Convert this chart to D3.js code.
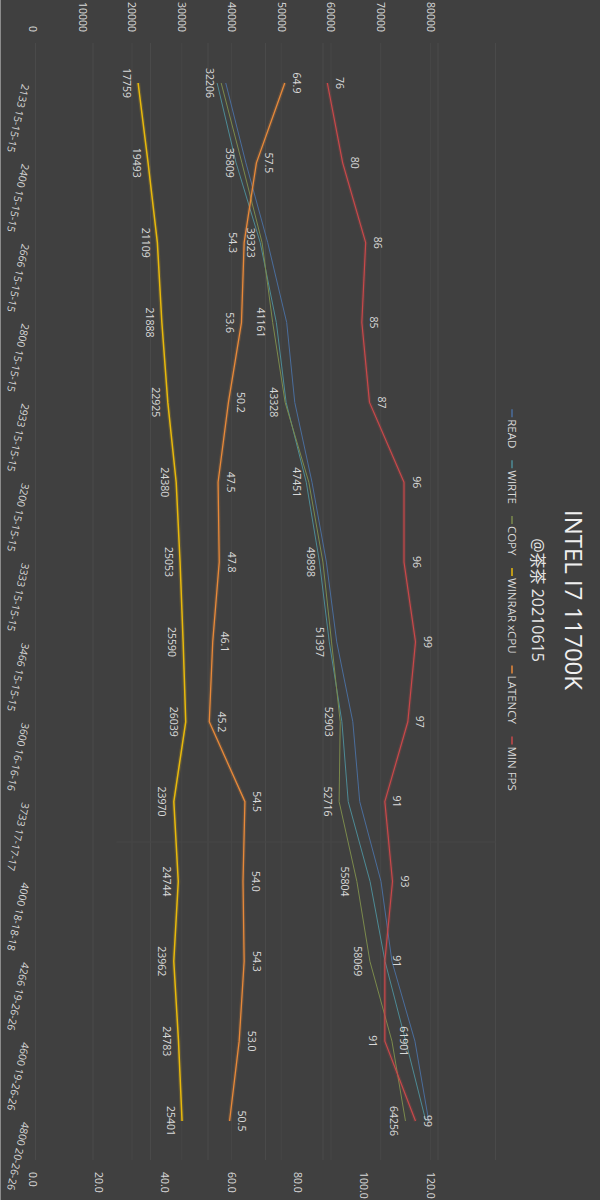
<!DOCTYPE html>
<html>
<head>
<meta charset="utf-8">
<script src="https://cdn.jsdelivr.net/npm/d3@7"></script>
<style>
  html, body { margin: 0; padding: 0; background: #404040; }
  svg { display: block; }
  text { font-family: "Open Sans", "Noto Sans CJK SC", sans-serif; }
</style>
</head>
<body>
<svg id="chart" width="600" height="1200"></svg>
<script>
// ---------- data ----------
const categories = ["2133 15-15-15","2400 15-15-15","2666 15-15-15","2800 15-15-15","2933 15-15-15","3200 15-15-15","3333 15-15-15","3466 15-15-15","3600 16-16-16","3733 17-17-17","4000 18-18-18","4266 19-26-26","4600 19-26-26","4800 20-26-26"];
const readValues   = [33000, 36500, 40300, 43600, 45000, 48000, 50500, 52300, 55100, 56300, 60000, 61900, 65900, 68300];
const writeValues  = [31500, 34800, 39000, 41800, 43500, 47000, 49300, 51000, 53200, 54300, 58100, 60700, 64300, 67800];
const copyValues   = [32206, 35809, 39323, 41161, 43328, 47451, 49898, 51397, 52903, 52716, 55804, 58069, 61901, 64256];
const winrarValues = [17759, 19493, 21109, 21888, 22925, 24380, 25053, 25590, 26039, 23970, 24744, 23962, 24783, 25401];
const latencyValues= [64.9, 57.5, 54.3, 53.6, 50.2, 47.5, 47.8, 46.1, 45.2, 54.5, 54.0, 54.3, 53.0, 50.5];
const minFpsValues = [76, 80, 86, 85, 87, 96, 96, 99, 97, 91, 93, 91, 91, 99];
const leftTicks  = [0, 10000, 20000, 30000, 40000, 50000, 60000, 70000, 80000];
const rightTicks = [0, 20, 40, 60, 80, 100, 120];
const seriesNames = ["READ", "WIRTE", "COPY", "WINRAR xCPU", "LATENCY", "MIN FPS"];
const title = "INTEL I7 11700K";
const subtitle = "@茶茶 20210615";

// ---------- styling ----------
const colors = {"READ":"#4a6d9c","WIRTE":"#4d8b96","COPY":"#7b8a4c","WINRAR xCPU":"#e8b90c","LATENCY":"#e8893a","MIN FPS":"#c9484a"};
const textColor = "#d9d9d9";
const gridColor = "#4a4a4a";

const series = [
  {name:"READ", values: readValues, axis:"L", width:1, glow:false},
  {name:"WIRTE", values: writeValues, axis:"L", width:1, glow:false},
  {name:"COPY", values: copyValues, axis:"L", width:1, glow:false, labels:true, fmt:d3.format("d"),
     above:[false,false,false,false,false,false,false,false,false,false,false,false,true,false]},
  {name:"WINRAR xCPU", values: winrarValues, axis:"L", width:1.5, glow:true, labels:true, fmt:d3.format("d"),
     above:winrarValues.map(()=>false)},
  {name:"LATENCY", values: latencyValues, axis:"R", width:1.3, glow:true, labels:true, fmt:d3.format(".1f"),
     above:[true,true,false,false,true,true,true,true,true,true,true,true,true,true]},
  {name:"MIN FPS", values: minFpsValues, axis:"R", width:1.2, glow:true, labels:true, fmt:d3.format("d"),
     above:[true,true,true,true,true,true,true,true,true,true,true,true,false,true]}
];

// ---------- chart (drawn in a 1200x600 frame, rotated 90deg clockwise) ----------
const svg = d3.select("#chart");
svg.append("rect").attr("width",600).attr("height",1200).attr("fill","#404040");
svg.append("line").attr("x1",0.5).attr("x2",0.5).attr("y1",0).attr("y2",1200)
   .attr("stroke","#8c8c8c").attr("stroke-width",1);

const g = svg.append("g").attr("transform","translate(600,0) rotate(90)");

const x = d3.scalePoint().domain(categories).range([83, 1121]);
const yL = d3.scaleLinear().domain([0, 80000]).range([564, 104]);
const yR = d3.scaleLinear().domain([0, 120]).range([564, 104]);
const yAxisL = d3.scaleLinear().domain([0, 80000]).range([567, 169]);
const yAxisR = d3.scaleLinear().domain([0, 120]).range([567, 169]);

// gridlines
const grid = g.append("g");
grid.selectAll("line.gd").data(leftTicks).join("line")
  .attr("x1",43).attr("x2",1160)
  .attr("y1",d=>yL(d)+0.5).attr("y2",d=>yL(d)+0.5)
  .attr("stroke",gridColor).attr("stroke-width",1);
grid.selectAll("line.ga").data(leftTicks.slice(2)).join("line")
  .attr("x1",43).attr("x2",1160)
  .attr("y1",d=>yAxisL(d)+0.5).attr("y2",d=>yAxisL(d)+0.5)
  .attr("stroke","#464646").attr("stroke-width",1);
grid.append("line").attr("x1",842).attr("x2",842).attr("y1",yL(80000)).attr("y2",yL(14000))
  .attr("stroke","#474747");

// left axis (top of picture)
const axL = g.append("g").attr("transform","translate(32,0)")
  .call(d3.axisLeft(yAxisL).tickValues(leftTicks).tickSize(0).tickPadding(0).tickFormat(d3.format("d")));
axL.select(".domain").remove();
axL.selectAll("text").attr("fill",textColor).attr("font-size","10.5px").attr("dy","0.35em");

// right axis (bottom of picture)
const axR = g.append("g").attr("transform","translate(1172,0)")
  .call(d3.axisRight(yAxisR).tickValues(rightTicks).tickSize(0).tickPadding(0).tickFormat(d3.format(".1f")));
axR.select(".domain").remove();
axR.selectAll("text").attr("fill",textColor).attr("font-size","10.5px").attr("dy","0.35em");

// category axis (left of picture)
const axB = g.append("g").attr("transform","translate(0,578)")
  .call(d3.axisBottom(x).tickSize(0).tickPadding(0));
axB.select(".domain").remove();
axB.selectAll("text").attr("fill",textColor).attr("font-size","10.5px")
  .attr("text-anchor","start").attr("x",0).attr("y",0).attr("dy",0)
  .attr("transform","rotate(12.6)");

// lines
const lineGen = (sc) => d3.line().x((d,i)=>x(categories[i])).y(d=>sc(d));
series.forEach(s => {
  const sc = s.axis === "L" ? yL : yR;
  if (s.glow) {
    g.append("path").datum(s.values).attr("d", lineGen(sc))
      .attr("fill","none").attr("stroke",colors[s.name]).attr("stroke-opacity",0.18)
      .attr("stroke-width",s.width+2.5).attr("stroke-linejoin","round");
  }
  g.append("path").datum(s.values).attr("d", lineGen(sc))
    .attr("fill","none").attr("stroke",colors[s.name])
    .attr("stroke-width",s.width).attr("stroke-linejoin","round");
});

// data labels
series.filter(s=>s.labels).forEach(s => {
  const sc = s.axis === "L" ? yL : yR;
  g.append("g").selectAll("text").data(s.values).join("text")
    .attr("x",(d,i)=>x(categories[i]))
    .attr("y",(d,i)=> s.above[i] ? sc(d) - 8.5 : sc(d) + 15.5)
    .attr("text-anchor","middle").attr("fill",textColor).attr("font-size","10.5px")
    .text(d=>s.fmt(d));
});

// title and subtitle
g.append("text").attr("x",600).attr("y",35).attr("text-anchor","middle")
  .attr("fill","#f0f0f0").attr("font-size","24px").text(title);
g.append("text").attr("x",600).attr("y",68).attr("text-anchor","middle")
  .attr("fill","#e6e6e6").attr("font-size","16px").text(subtitle);

// legend
const legend = g.append("g").attr("transform","translate(0,92)");
const items = legend.selectAll("g").data(seriesNames).join("g");
items.append("line").attr("x1",0).attr("x2",8).attr("y1",-4).attr("y2",-4)
  .attr("stroke",d=>colors[d]).attr("stroke-width",1.5);
items.append("text").attr("x",10).attr("y",0).attr("fill",textColor)
  .attr("font-size","11.5px").text(d=>d);
let widths = [];
items.each(function(){ widths.push(this.getBBox().width); });
const gap = 12;
const total = d3.sum(widths) + gap*(widths.length-1);
let cx = 600 - total/2;
items.attr("transform",(d,i)=>{ const t = `translate(${cx},0)`; cx += widths[i] + gap; return t; });
</script>
</body>
</html>
